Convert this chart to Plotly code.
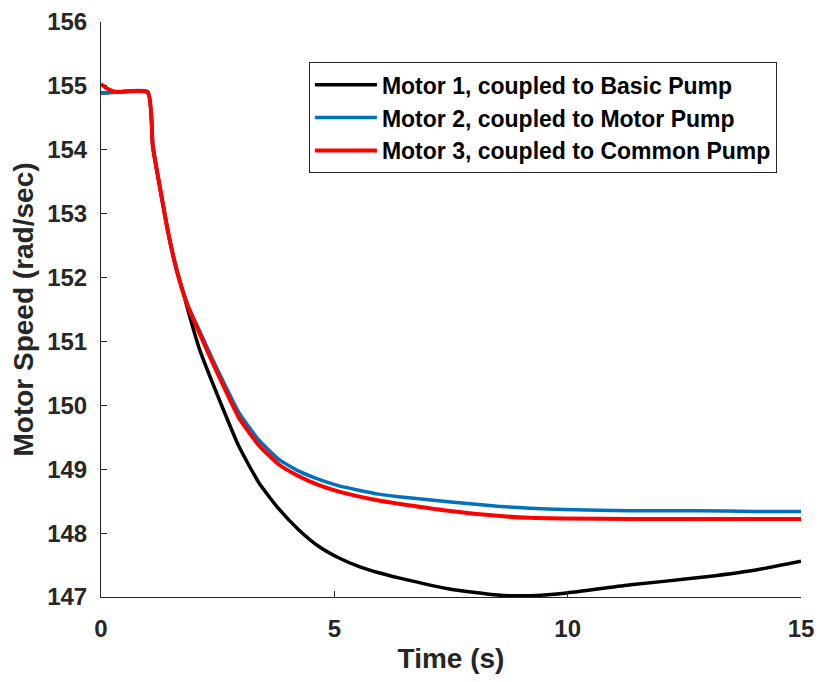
import plotly.graph_objects as go

# values
t_basic = [0, 0.3, 1.0, 1.11, 1.26, 1.44, 1.62, 1.78, 1.86, 2.11, 2.54, 2.96, 3.39, 3.82,
           4.24, 4.67, 5.10, 5.52, 5.95, 6.38, 7.44, 8.5, 9.2, 9.93, 11.35, 12.77, 14, 15]
motor1_basic = [154.89, 154.90, 154.90, 154.05, 153.42, 152.70, 152.12, 151.72, 151.50,
                150.88, 150.08, 149.35, 148.78, 148.37, 148.05, 147.79, 147.61, 147.48,
                147.38, 147.30, 147.13, 147.03, 147.02, 147.06, 147.19, 147.30, 147.42, 147.56]

t_motor = [0, 0.3, 1.0, 1.11, 1.26, 1.44, 1.62, 1.86, 2.11, 2.39, 2.75, 2.96, 3.39, 3.82,
           4.24, 4.67, 5.10, 5.95, 6.38, 7.44, 8.5, 9.2, 9.93, 11.35, 12.77, 14, 15]
motor2_motor = [154.89, 154.90, 154.91, 154.06, 153.43, 152.71, 152.13, 151.57, 151.17,
                150.72, 150.18, 149.88, 149.45, 149.15, 148.97, 148.84, 148.74, 148.61,
                148.57, 148.49, 148.42, 148.39, 148.37, 148.35, 148.35, 148.34, 148.34]

t_common = [0, 0.15, 0.3, 1.0, 1.11, 1.26, 1.44, 1.62, 1.86, 2.11, 2.39, 2.75, 2.96, 3.39,
            3.82, 4.24, 4.67, 5.10, 5.95, 6.38, 7.44, 8.5, 9.2, 9.93, 11.35, 12.77, 14, 15]
motor3_common = [155.03, 154.95, 154.91, 154.90, 154.05, 153.42, 152.70, 152.12, 151.55,
                 151.13, 150.67, 150.11, 149.80, 149.37, 149.07, 148.89, 148.75, 148.65,
                 148.51, 148.46, 148.35, 148.27, 148.24, 148.23, 148.22, 148.22, 148.22, 148.22]

series = [
    ('Motor 1, coupled to Basic Pump', t_basic, motor1_basic, '#000000', 3.5),
    ('Motor 2, coupled to Motor Pump', t_motor, motor2_motor, '#0072BD', 3.5),
    ('Motor 3, coupled to Common Pump', t_common, motor3_common, '#FF0000', 4),
]

fig = go.Figure()
for name, tt, vals, col, w in series:
    fig.add_trace(go.Scatter(x=tt, y=vals, mode='lines', name=name,
                             line=dict(color=col, width=w, shape='spline', smoothing=0.5)))

axis_font = dict(family='Liberation Sans, Arial', size=24, color='#262626', weight='bold')
title_font = dict(family='Liberation Sans, Arial', size=28, color='#262626', weight='bold')

# page body adds an 8px offset, so the figure is made smaller to fit the window
# (right margin a bit wider so the "15" tick label is not cut off)
fig.update_layout(
    width=815, height=666,
    margin=dict(l=93, r=22, t=14, b=77),
    paper_bgcolor='white', plot_bgcolor='white',
    showlegend=True,
    legend=dict(x=0.297, y=0.93, xanchor='left', yanchor='top',
                bgcolor='white', bordercolor='#262626', borderwidth=1,
                font=dict(family='Liberation Sans, Arial', size=23, color='#000000', weight='bold'),
                tracegroupgap=0, itemwidth=62),
    xaxis=dict(range=[0, 15], tickvals=[0, 5, 10, 15], showgrid=False, zeroline=False,
               showline=True, linecolor='#262626', linewidth=1, ticks='inside',
               ticklen=6, tickcolor='#262626', tickfont=axis_font, automargin=False,
               ticklabelstandoff=10, ticklabeloverflow='allow',
               title=dict(text='Time (s)', font=title_font, standoff=19)),
    yaxis=dict(range=[147, 156], dtick=1, showgrid=False, zeroline=False,
               showline=True, linecolor='#262626', linewidth=1, ticks='inside',
               ticklen=6, tickcolor='#262626', tickfont=axis_font, automargin=False,
               ticklabelstandoff=8,
               title=dict(text='Motor Speed (rad/sec)', font=title_font, standoff=12)),
)

fig.write_html("out.html")
